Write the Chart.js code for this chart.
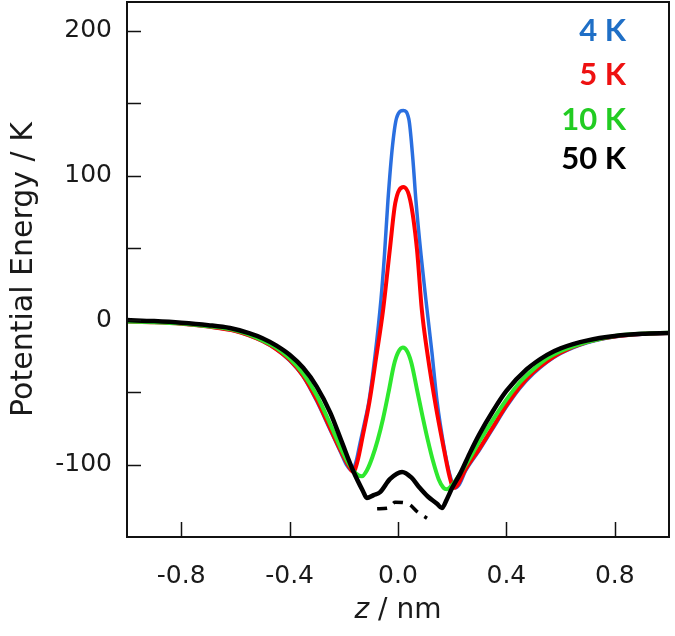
<!DOCTYPE html>
<html lang="en">
<head>
  <meta charset="UTF-8" />
  <title>Potential Energy vs z</title>
  <script src="https://cdn.jsdelivr.net/npm/chart.js"></script>
  <style>
    body { margin: 0; background: #fff; }
    #wrap { width: 675px; height: 636px; }
  </style>
</head>
<body>
  <div id="wrap"><canvas id="pe" width="675" height="636"></canvas></div>

  <script>
    // values: z in nm, energy in K
    const z4K = [-1, -0.9, -0.8, -0.7, -0.6, -0.55, -0.5, -0.45, -0.4, -0.35, -0.3, -0.25, -0.21, -0.19, -0.17, -0.155, -0.14, -0.12, -0.107, -0.085, -0.063, -0.05, -0.037, -0.02, -0.005, 0.02, 0.04, 0.055, 0.066, 0.085, 0.103, 0.125, 0.144, 0.17, 0.19, 0.21, 0.225, 0.25, 0.3, 0.35, 0.4, 0.45, 0.5, 0.55, 0.6, 0.7, 0.8, 0.9, 1];
    const e4K = [-1, -1.5, -2.5, -4.5, -7.5, -10.5, -14.5, -20, -28, -39, -56, -76, -92, -100, -104, -98, -85, -68, -56, -25, 14, 45, 83, 121, 140, 145, 139, 111, 83, 45, 14, -22, -56, -88, -106, -116, -114, -104, -90, -75, -60, -47, -37, -29, -23, -15.5, -11.5, -9.8, -9];

    const z5K = [-1, -0.9, -0.8, -0.7, -0.6, -0.55, -0.5, -0.45, -0.4, -0.35, -0.3, -0.25, -0.21, -0.185, -0.165, -0.15, -0.13, -0.105, -0.08, -0.055, -0.03, -0.01, 0.02, 0.045, 0.07, 0.088, 0.11, 0.14, 0.165, 0.19, 0.205, 0.22, 0.25, 0.3, 0.35, 0.4, 0.45, 0.5, 0.55, 0.6, 0.7, 0.8, 0.9, 1];
    const e5K = [-1, -1.5, -2.5, -4.5, -7.5, -10.5, -14.5, -20, -27.5, -38.5, -55, -75, -91, -100, -105, -98, -80, -56, -25, 7, 49, 81, 92, 83, 49, 7, -25, -60, -85, -108, -116, -114, -103, -89, -74, -59, -46, -36, -28.5, -22.5, -15, -11.3, -9.6, -9];

    const z10K = [-1, -0.9, -0.8, -0.7, -0.6, -0.55, -0.5, -0.45, -0.4, -0.35, -0.3, -0.25, -0.21, -0.18, -0.155, -0.133, -0.115, -0.095, -0.075, -0.055, -0.035, -0.015, 0, 0.018, 0.035, 0.05, 0.07, 0.09, 0.11, 0.13, 0.15, 0.168, 0.18, 0.2, 0.23, 0.26, 0.3, 0.35, 0.4, 0.45, 0.5, 0.55, 0.6, 0.7, 0.8, 0.9, 1];
    const e10K = [-1, -1.4, -2.3, -4.2, -7, -10, -14, -19, -26.5, -37, -52, -72, -89, -100, -106, -108, -104, -95, -83, -68, -50, -31, -22.5, -19, -22, -30, -48, -66, -83, -98, -110, -116, -117, -114, -106, -97, -84, -69, -55, -43, -34, -26.5, -21.5, -15, -11, -9.4, -8.8];

    const z50K = [-1, -0.9, -0.8, -0.7, -0.62, -0.55, -0.5, -0.45, -0.4, -0.35, -0.3, -0.25, -0.21, -0.166, -0.13, -0.115, -0.09, -0.066, -0.03, 0.015, 0.05, 0.08, 0.11, 0.144, 0.162, 0.18, 0.2, 0.23, 0.265, 0.3, 0.35, 0.4, 0.475, 0.55, 0.6, 0.7, 0.8, 0.9, 1];
    const e50K = [0, -0.7, -1.8, -3.5, -5.5, -9, -12.5, -17.5, -24, -33, -46, -64, -83, -104, -118, -123, -121, -119, -110, -105, -109, -116, -122, -127, -130, -124, -116, -106, -92, -79, -63, -49, -34, -24, -19.5, -14, -11, -9.5, -9];

    // short dashed black piece under the 50 K curve
    const zDash = [-0.077, -0.037, -0.01, 0.037, 0.074, 0.107];
    const eDash = [-130.5, -130, -126, -127, -133, -137];

    const xTicks = [-0.8, -0.4, 0, 0.4, 0.8];
    const yTicks = [-100, 0, 100, 200];
    const yMinorTicks = [-50, 50, 150];

    const legendLabels = ['4 K', '5 K', '10 K', '50 K'];
    const legendColors = ['#1f6fc6', '#ee1111', '#22cc22', '#000000'];

    function pts(xs, ys) {
      return xs.map((x, i) => ({ x: x, y: ys[i] }));
    }

    const FONT = '"DejaVu Sans", sans-serif';
    const LEGEND_FONT = 'Lato, "Open Sans", sans-serif';

    const decorPlugin = {
      id: 'decor',
      afterDatasetsDraw(chart) {
        const c = chart.ctx;
        const a = chart.chartArea;
        const xs = chart.scales.x;
        const ys = chart.scales.y;
        c.save();
        c.strokeStyle = '#111';
        c.lineWidth = 2;
        c.strokeRect(a.left, a.top, a.right - a.left, a.bottom - a.top);
        c.lineWidth = 1.5;
        c.beginPath();
        xTicks.forEach(v => {
          const p = Math.round(xs.getPixelForValue(v)) + 0.5;
          c.moveTo(p, a.bottom);
          c.lineTo(p, a.bottom - 15);
        });
        yTicks.concat(yMinorTicks).forEach(v => {
          const p = Math.round(ys.getPixelForValue(v)) + 0.5;
          c.moveTo(a.left, p);
          c.lineTo(a.left + 14, p);
        });
        c.stroke();

        // legend text
        c.font = 'bold 31px ' + LEGEND_FONT;
        c.textAlign = 'right';
        c.textBaseline = 'alphabetic';
        const baselines = [41, 85, 130, 169];
        legendLabels.forEach((t, i) => {
          c.fillStyle = legendColors[i];
          c.fillText(t, 626, baselines[i]);
        });

        // axis titles
        c.fillStyle = '#1a1a1a';
        c.font = '30px ' + FONT;
        c.textBaseline = 'middle';
        c.textAlign = 'center';
        c.save();
        c.translate(24, (a.top + a.bottom) / 2);
        c.rotate(-Math.PI / 2);
        c.fillText('Potential Energy / K', 0, 0);
        c.restore();

        const zPart = 'z';
        const rest = ' / nm';
        c.font = 'italic 28px ' + FONT;
        const w1 = c.measureText(zPart).width;
        c.font = '28px ' + FONT;
        const w2 = c.measureText(rest).width;
        const cx = (a.left + a.right) / 2;
        const x0 = cx - (w1 + w2) / 2;
        c.textAlign = 'left';
        c.font = 'italic 28px ' + FONT;
        c.fillText(zPart, x0, 611);
        c.font = '28px ' + FONT;
        c.fillText(rest, x0 + w1, 611);
        c.restore();
      }
    };

    const line = (data, color, width, order) => ({
      data: data,
      borderColor: color,
      borderWidth: width,
      showLine: true,
      pointRadius: 0,
      fill: false,
      cubicInterpolationMode: 'monotone',
      order: order
    });

    const dashed = line(pts(zDash, eDash), '#000', 3.5, 0);
    dashed.borderDash = [10, 8];

    new Chart(document.getElementById('pe'), {
      type: 'scatter',
      data: {
        datasets: [
          line(pts(z4K, e4K), '#2a6fe0', 3.5, 3),
          line(pts(z5K, e5K), '#ff0000', 4, 2),
          line(pts(z10K, e10K), '#2ee82e', 4, 1),
          line(pts(z50K, e50K), '#000000', 4.5, 0),
          dashed
        ]
      },
      options: {
        responsive: false,
        animation: false,
        layout: { padding: { top: 2, right: 6, left: 0, bottom: 0 } },
        plugins: {
          legend: { display: false },
          tooltip: { enabled: false }
        },
        scales: {
          x: {
            type: 'linear',
            min: -1,
            max: 1,
            afterBuildTicks: s => { s.ticks = xTicks.map(v => ({ value: v })); },
            afterFit: s => { s.height = 99; s.paddingLeft = 0; s.paddingRight = 0; },
            grid: { display: false, drawTicks: false },
            border: { display: false },
            ticks: {
              padding: 24,
              color: '#1a1a1a',
              font: { family: FONT, size: 25 },
              callback: v => v.toFixed(1)
            }
          },
          y: {
            type: 'linear',
            min: -150,
            max: 220,
            afterBuildTicks: s => { s.ticks = yTicks.map(v => ({ value: v })); },
            afterFit: s => { s.width = 127; s.paddingTop = 0; s.paddingBottom = 0; },
            grid: { display: false, drawTicks: false },
            border: { display: false },
            ticks: {
              padding: 15,
              color: '#1a1a1a',
              font: { family: FONT, size: 25 },
              callback: v => String(v)
            }
          }
        }
      },
      plugins: [decorPlugin]
    });
  </script>
</body>
</html>
